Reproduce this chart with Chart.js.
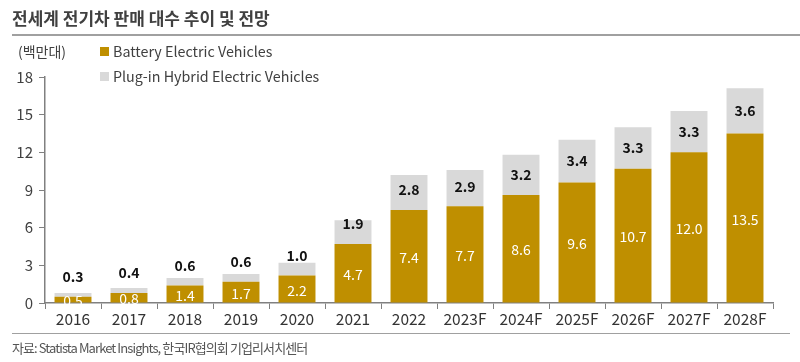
<!DOCTYPE html>
<html>
<head>
<meta charset="utf-8">
<script src="https://cdn.jsdelivr.net/npm/chart.js@4/dist/chart.umd.min.js"></script>
<style>
   body { margin: 0; background: #fff; font-family: "Noto Sans CJK KR", "Noto Sans", sans-serif; }
   #wrap { position: relative; width: 800px; height: 362px; }
   #title { position: absolute; left: 12px; top: 5px; font-size: 17px; font-weight: bold; color: #404040; }
   #rule-top { position: absolute; left: 12px; right: 0; top: 34px; height: 2px; background: #a0a0a0; }
   #unit { position: absolute; left: 18px; top: 41px; font-size: 14px; color: #404040; }
   .leg { position: absolute; left: 100px; font-size: 14.3px; color: #404040; }
   .leg i { display: inline-block; width: 9px; height: 9px; margin-right: 4px; vertical-align: 1px; }
   #rule-bot { position: absolute; left: 12px; right: 10px; top: 333px; height: 1px; background: #a0a0a0; }
   #source { position: absolute; left: 12px; top: 338px; font-size: 13px; color: #555; letter-spacing: -0.9px; }
   canvas { position: absolute; left: 0; top: 0; }
</style>
</head>
<body>
<div id="wrap">
   <canvas id="chart" width="800" height="362"></canvas>
   <div id="title">전세계 전기차 판매 대수 추이 및 전망</div>
   <div id="rule-top"></div>
   <div id="unit">(백만대)</div>
   <div class="leg" style="top:40px"><i style="background:#BF8F00"></i>Battery Electric Vehicles</div>
   <div class="leg" style="top:65px"><i style="background:#D9D9D9"></i>Plug-in Hybrid Electric Vehicles</div>
   <div id="rule-bot"></div>
   <div id="source">자료: Statista Market Insights, 한국IR협의회 기업리서치센터</div>
</div>
<script>
const years = ['2016', '2017', '2018', '2019', '2020', '2021', '2022', '2023F', '2024F', '2025F', '2026F', '2027F', '2028F'];
const bev = [0.5, 0.8, 1.4, 1.7, 2.2, 4.7, 7.4, 7.7, 8.6, 9.6, 10.7, 12.0, 13.5];
const phev = [0.3, 0.4, 0.6, 0.6, 1.0, 1.9, 2.8, 2.9, 3.2, 3.4, 3.3, 3.3, 3.6];

// 막대 값 표시
const barLabels = {
   id: 'barLabels',
   afterDatasetsDraw(chart) {
      const ctx = chart.ctx;
      const y = chart.scales.y;
      ctx.save();
      ctx.textAlign = 'center';
      ctx.textBaseline = 'middle';
      const m0 = chart.getDatasetMeta(0);
      const m1 = chart.getDatasetMeta(1);
      ctx.font = '14px "Noto Sans CJK KR", "Noto Sans", sans-serif';
      m0.data.forEach((bar, i) => {
         const bottom = y.getPixelForValue(0);
         const top = y.getPixelForValue(bev[i]);
         ctx.fillStyle = '#ffffff';
         ctx.fillText(bev[i].toFixed(1), bar.x, (top + bottom) / 2 + 1);
      });
      ctx.font = 'bold 14px "Noto Sans CJK KR", "Noto Sans", sans-serif';
      m1.data.forEach((bar, i) => {
         const segBottom = y.getPixelForValue(bev[i]);
         const segTop = y.getPixelForValue(bev[i] + phev[i]);
         const ly = Math.min((segTop + segBottom) / 2, segBottom - 20);
         ctx.fillStyle = '#111111';
         ctx.fillText(phev[i].toFixed(1), bar.x, ly);
      });
      ctx.restore();
   }
};

new Chart(document.getElementById('chart'), {
   type: 'bar',
   data: {
      labels: years,
      datasets: [
         { label: 'Battery Electric Vehicles', data: bev, backgroundColor: '#BF8F00' },
         { label: 'Plug-in Hybrid Electric Vehicles', data: phev, backgroundColor: '#D9D9D9' }
      ]
   },
   options: {
      responsive: false,
      animation: false,
      categoryPercentage: 1,
      barPercentage: 0.66,
      layout: { padding: { top: 77, right: 27, bottom: 29, left: 0 } },
      scales: {
         x: {
            stacked: true,
            afterFit: (s) => { s.height = 30; },
            grid: { drawOnChartArea: false, tickLength: 6, color: '#808080', offset: true },
            border: { color: '#808080', width: 1.5 },
            ticks: { color: '#333', font: { size: 15.5, family: '"Noto Sans CJK KR", sans-serif' }, padding: 1 }
         },
         y: {
            stacked: true,
            min: 0,
            max: 18,
            afterFit: (s) => { s.width = 45; },
            grid: { drawOnChartArea: false, tickLength: 6, color: '#808080' },
            border: { color: '#808080', width: 1.5 },
            ticks: { stepSize: 3, color: '#404040', font: { size: 15, family: '"Noto Sans CJK KR", sans-serif' }, padding: 6 }
         }
      },
      plugins: {
         legend: { display: false },
         tooltip: { enabled: false }
      }
   },
   plugins: [barLabels]
});
</script>
</body>
</html>
